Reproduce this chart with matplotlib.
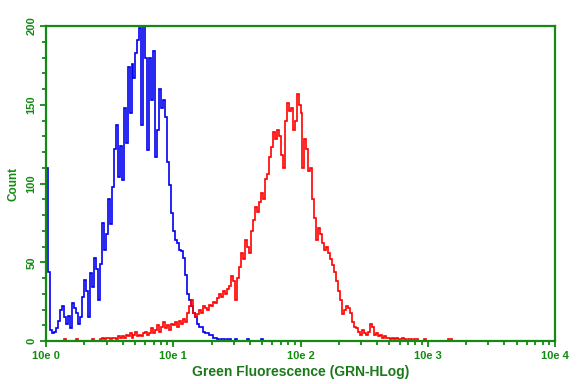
import matplotlib.pyplot as plt
import numpy as np
from matplotlib.ticker import FixedLocator, LogLocator, NullFormatter

# histogram channels: 64 channels per decade on a 4-decade log scale
channels_per_decade = 64

blue_start = 0
blue_counts = [
    110, 44, 7, 5, 6, 8, 13, 20, 22, 15, 11, 16, 8, 24, 21, 18,
    11, 15, 28, 39, 32, 15, 43, 34, 53, 46, 26, 49, 75, 58, 68, 90,
    74, 98, 122, 137, 104, 124, 102, 148, 126, 174, 145, 176, 167, 183, 191, 199,
    137, 200, 180, 121, 180, 153, 184, 117, 134, 160, 148, 153, 142, 114, 99, 81,
    70, 64, 62, 58, 57, 53, 42, 30, 26, 22, 18, 15, 11, 9, 9, 6,
    5, 5, 4, 4, 2, 2, 1, 0, 1, 1, 0, 1, 1, 0, 0, 1,
    0, 0, 0, 0, 0, 1, 0, 0, 0, 0, 0, 0, 1, 0,
]

red_start = 9
red_counts = [
    1, 0, 0, 0, 0, 0, 1, 0, 0, 0, 0, 0, 0, 0, 1, 0,
    0, 0, 1, 2, 1, 2, 2, 1, 2, 2, 1, 3, 2, 3, 2, 4,
    3, 5, 2, 4, 6, 3, 4, 3, 5, 6, 4, 5, 8, 5, 7, 10,
    6, 9, 12, 8, 10, 7, 11, 10, 12, 9, 13, 11, 14, 12, 18, 22,
    26, 18, 15, 17, 20, 18, 22, 21, 20, 23, 22, 25, 24, 27, 30, 28,
    32, 30, 33, 35, 41, 38, 26, 40, 47, 56, 52, 64, 60, 56, 70, 77,
    85, 82, 88, 94, 90, 103, 106, 117, 123, 133, 128, 134, 130, 118, 110, 140,
    151, 146, 148, 134, 140, 157, 150, 145, 110, 128, 122, 108, 110, 90, 78, 64,
    72, 68, 62, 58, 60, 56, 52, 48, 44, 38, 32, 26, 17, 20, 22, 21,
    18, 12, 9, 8, 6, 4, 7, 5, 4, 6, 11, 9, 4, 5, 3, 4,
    2, 3, 2, 2, 1, 2, 1, 2, 1, 1, 2, 1, 0, 1, 1, 0,
    1, 1, 0, 0, 0, 1, 0, 0, 0, 0, 0, 0, 0, 0, 0, 0,
    0, 1, 1, 0, 0, 0,
]

y_ticks = [0, 50, 100, 150, 200]
x_decades = [0, 1, 2, 3, 4]
x_tick_labels = ["10e 0", "10e 1", "10e 2", "10e 3", "10e 4"]

green = "#138a13"
dark_green = "#1a7a1a"
fam = ["Liberation Sans Narrow", "Liberation Sans", "DejaVu Sans"]


def edges_for(start, counts):
    k = np.arange(start, start + len(counts) + 1)
    return 10.0 ** (k / channels_per_decade)


fig = plt.figure(figsize=(5.78, 3.84), dpi=100)
ax = fig.add_axes([0.0796, 0.112, 0.8806, 0.820])

ax.stairs(blue_counts, edges_for(blue_start, blue_counts), color="#0000ee", lw=1.2)
ax.stairs(red_counts, edges_for(red_start, red_counts), color="#ff0000", lw=1.2)

ax.set_xscale("log")
ax.set_xlim(1, 1e4)
ax.set_ylim(0, 200)

for sp in ax.spines.values():
    sp.set_color(green)
    sp.set_linewidth(1.6)

ax.set_xticks([10.0 ** d for d in x_decades])
ax.set_xticklabels(x_tick_labels)
ax.xaxis.set_minor_locator(LogLocator(base=10, subs=np.arange(2, 10)))
ax.xaxis.set_minor_formatter(NullFormatter())

ax.set_yticks(y_ticks)
ax.set_yticklabels([str(v) for v in y_ticks], rotation=90, va="center")
ax.yaxis.set_minor_locator(FixedLocator(np.arange(0, 201, 10)))

ax.tick_params(which="both", direction="out", color=green, width=1.3)
ax.tick_params(which="major", length=4, labelcolor=green, labelsize=8, pad=3)
ax.tick_params(which="minor", length=3)
for lab in ax.get_xticklabels() + ax.get_yticklabels():
    lab.set_fontweight("bold")
    lab.set_family(fam)

ax.set_xlabel("Green Fluorescence (GRN-HLog)", color=dark_green, fontsize=10,
              fontweight="bold", family=fam, labelpad=3)
ax.set_ylabel("Count", color=green, fontsize=8.5, fontweight="bold",
              family=fam, labelpad=5)

fig.savefig("out.png", dpi=100)
